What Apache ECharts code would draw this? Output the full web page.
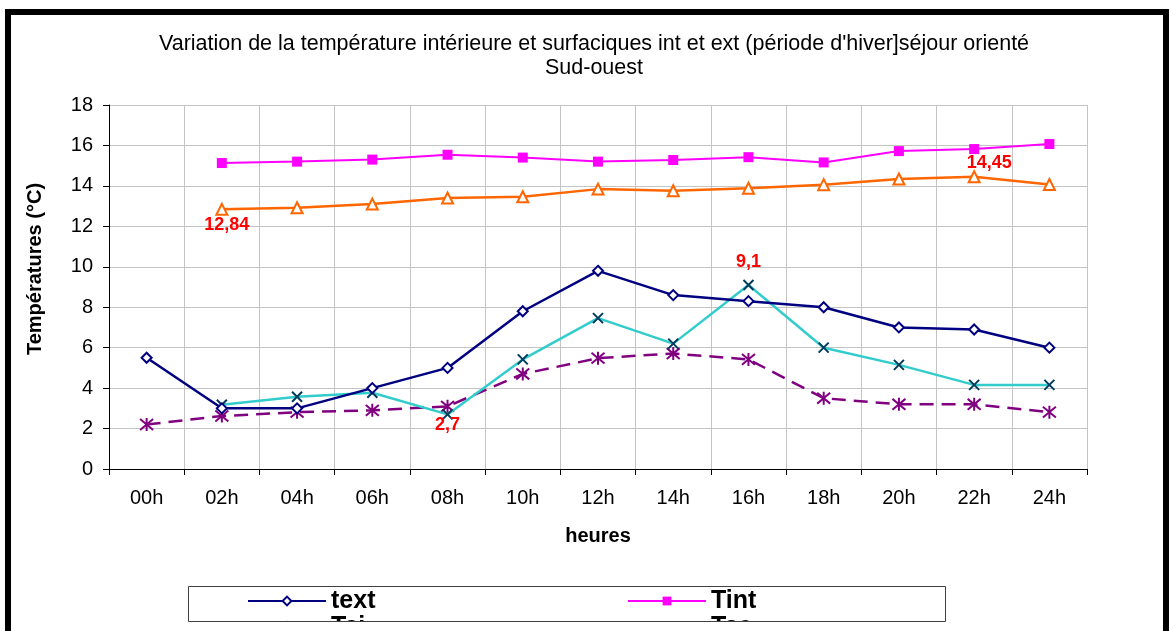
<!DOCTYPE html>
<html>
<head>
<meta charset="utf-8">
<script src="https://cdn.jsdelivr.net/npm/echarts@6/dist/echarts.min.js"></script>
<style>
html,body{margin:0;padding:0;background:#fff;}
#chart{width:1171px;height:631px;}
</style>
</head>
<body>
<div id="chart"></div>
<script>
// ---- data ----
const categories = ['00h','02h','04h','06h','08h','10h','12h','14h','16h','18h','20h','22h','24h'];
const yTicks = [0, 2, 4, 6, 8, 10, 12, 14, 16, 18];
const seriesNames = ['text', 'Tint', 'Tsi', 'Tse', 'Tsol'];
const textValues = [5.5, 3.0, 3.0, 4.0, 5.0, 7.8, 9.8, 8.6, 8.3, 8.0, 7.0, 6.9, 6.0];
const tintValues = [null, 15.13, 15.2, 15.3, 15.54, 15.4, 15.2, 15.28, 15.42, 15.16, 15.72, 15.82, 16.07];
const tsiValues  = [null, 12.84, 12.92, 13.1, 13.4, 13.46, 13.84, 13.76, 13.88, 14.06, 14.34, 14.45, 14.07];
const tseValues  = [null, 3.18, 3.57, 3.77, 2.7, 5.42, 7.46, 6.2, 9.1, 6.0, 5.15, 4.16, 4.16];
const tsolValues = [2.2, 2.62, 2.81, 2.9, 3.1, 4.7, 5.48, 5.71, 5.42, 3.5, 3.2, 3.2, 2.81];
const tsiLabelIdx = [1, 11];
const tseLabelIdx = [4, 8];

// ---- styling / layout ----
const labelOffsets = {tsi: {1: [5, 16], 11: [15, -14]}, tse: {4: [0, 11], 8: [0, -23]}};
const fmt = v => String(v).replace('.', ',');
function withLabels(values, idxs, offs) {
  return values.map((v, i) => idxs.includes(i) ? {
    value: v,
    label: {show: true, position: 'inside', offset: offs[i], formatter: fmt(v),
      color: '#ff0000', fontWeight: 'bold', fontSize: 18, fontFamily: 'Liberation Sans, Arial, sans-serif'}
  } : v);
}

const chart = echarts.init(document.getElementById('chart'), null, {renderer: 'canvas'});
const font = 'Liberation Sans, Arial, sans-serif';
const option = {
  animation: false,
  backgroundColor: '#ffffff',
  title: {
    text: 'Variation de la température intérieure et surfaciques int et ext (période d\'hiver]séjour orienté\nSud-ouest',
    left: 594, textAlign: 'center', top: 32, padding: 0,
    textStyle: {fontFamily: font, fontSize: 21.5, fontWeight: 'normal', color: '#000', lineHeight: 24}
  },
  legend: {
    data: seriesNames,
    left: 247, top: 588, width: 760, padding: 0,
    orient: 'horizontal',
    itemWidth: 78, itemHeight: 11, itemGap: 0,
    textStyle: {fontFamily: font, fontSize: 25, fontWeight: 'bold', color: '#000', width: 296, height: 26, lineHeight: 26}
  },
  grid: {left: 109, right: 84, top: 105, bottom: 162, containLabel: false},
  xAxis: {
    type: 'category', data: categories, boundaryGap: true,
    name: 'heures', nameLocation: 'middle', nameGap: 57,
    nameTextStyle: {fontFamily: font, fontSize: 20, fontWeight: 'bold', color: '#000'},
    axisLine: {show: true, lineStyle: {color: '#000', width: 1}},
    axisTick: {show: true, length: 6, interval: 0, lineStyle: {color: '#000'}},
    axisLabel: {interval: 0, margin: 19, fontFamily: font, fontSize: 20, color: '#000'},
    splitLine: {show: true, interval: 0, lineStyle: {color: '#c4c4c4', width: 1}}
  },
  yAxis: {
    type: 'value', min: yTicks[0], max: yTicks[yTicks.length - 1], interval: yTicks[1] - yTicks[0],
    name: 'Températures (°C)', nameLocation: 'middle', nameGap: 64,
    nameTextStyle: {fontFamily: font, fontSize: 20, fontWeight: 'bold', color: '#000', padding: [0, 0, 0, 36]},
    axisLine: {show: true, lineStyle: {color: '#000', width: 1}},
    axisTick: {show: true, length: 6, lineStyle: {color: '#000'}},
    axisLabel: {margin: 16, fontFamily: font, fontSize: 20, color: '#000'},
    splitLine: {show: true, lineStyle: {color: '#c4c4c4', width: 1}}
  },
  series: [
    {
      name: seriesNames[0], type: 'line', data: textValues,
      symbol: 'diamond', symbolSize: 10,
      itemStyle: {color: '#ffffff', borderColor: '#000080', borderWidth: 2},
      lineStyle: {color: '#000080', width: 2.5}, z: 5
    },
    {
      name: seriesNames[1], type: 'line', data: tintValues,
      symbol: 'rect', symbolSize: 10,
      itemStyle: {color: '#ff00ff'},
      lineStyle: {color: '#ff00ff', width: 2}, z: 4
    },
    {
      name: seriesNames[2], type: 'line', data: withLabels(tsiValues, tsiLabelIdx, labelOffsets.tsi),
      symbol: 'triangle', symbolSize: 11,
      itemStyle: {color: '#ffffff', borderColor: '#ff6600', borderWidth: 2},
      lineStyle: {color: '#ff6600', width: 2.5}, z: 4
    },
    {
      name: seriesNames[3], type: 'line', data: withLabels(tseValues, tseLabelIdx, labelOffsets.tse),
      symbol: 'path://M0,0L10,10M10,0L0,10', symbolSize: 10,
      itemStyle: {color: 'rgba(0,0,0,0)', borderColor: '#003b5c', borderWidth: 2},
      lineStyle: {color: '#33cccc', width: 2.5}, z: 3
    },
    {
      name: seriesNames[4], type: 'line', data: tsolValues,
      symbol: 'path://M0,0L10,10M10,0L0,10M5,-1L5,11', symbolSize: 13,
      itemStyle: {color: 'rgba(0,0,0,0)', borderColor: '#800080', borderWidth: 2},
      lineStyle: {color: '#800080', width: 2.5, type: [14, 8]}, z: 2
    }
  ],
  graphic: [
    {type: 'rect', z: 100, shape: {x: 188, y: 621.5, width: 760, height: 20}, style: {fill: '#ffffff'}},
    {type: 'rect', z: 101, shape: {x: 188.5, y: 586.5, width: 757, height: 35}, style: {fill: 'none', stroke: '#404040', lineWidth: 1}},
    {type: 'rect', z: 102, shape: {x: 5, y: 9, width: 6, height: 622}, style: {fill: '#000'}},
    {type: 'rect', z: 102, shape: {x: 5, y: 9, width: 1164, height: 6}, style: {fill: '#000'}},
    {type: 'rect', z: 102, shape: {x: 1163, y: 9, width: 6, height: 622}, style: {fill: '#000'}}
  ]
};
chart.setOption(option);
</script>
</body>
</html>
